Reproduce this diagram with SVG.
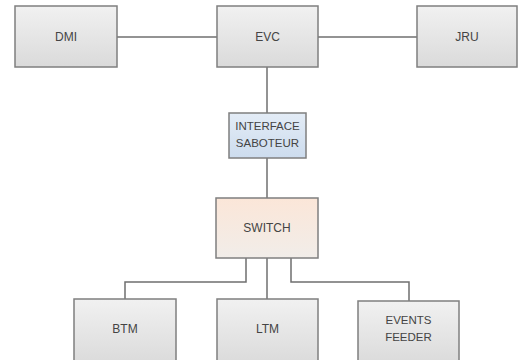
<svg xmlns="http://www.w3.org/2000/svg" width="518" height="360" viewBox="0 0 518 360">
  <defs>
    <linearGradient id="gGrey" x1="0" y1="0" x2="0" y2="1">
      <stop offset="0" stop-color="#f1f1f1"/>
      <stop offset="1" stop-color="#dadada"/>
    </linearGradient>
    <linearGradient id="gBlue" x1="0" y1="0" x2="0" y2="1">
      <stop offset="0" stop-color="#e3ecf6"/>
      <stop offset="1" stop-color="#cddcee"/>
    </linearGradient>
    <linearGradient id="gPeach" x1="0" y1="0" x2="0" y2="1">
      <stop offset="0" stop-color="#fbe6d8"/>
      <stop offset="1" stop-color="#f1ede9"/>
    </linearGradient>
  </defs>
  <style>
    rect { stroke: #7f7f7f; stroke-width: 1.5; }
    .grey { fill: url(#gGrey); }
    .blue { fill: url(#gBlue); }
    .peach { fill: url(#gPeach); }
    text { font-family: "Liberation Sans", Arial, sans-serif; font-size: 12px; fill: #444444; text-anchor: middle; }
    .two { font-size: 11.5px; }
    #connectors path { fill: none; stroke: #6f6f6f; stroke-width: 1.5; }
  </style>

  <g id="connectors">
    <path d="M117 37 H217"/>
    <path d="M318 37 H417"/>
    <path d="M267 67 V113"/>
    <path d="M267 158 V198"/>
    <path d="M246 258 V282 H125 V299"/>
    <path d="M267 258 V299"/>
    <path d="M291 258 V282 H409 V301"/>
  </g>

  <g id="dmi">
    <rect class="grey" x="15" y="6" width="102" height="61"/>
    <text x="66" y="41">DMI</text>
  </g>
  <g id="evc">
    <rect class="grey" x="217" y="6" width="101" height="61"/>
    <text x="267.5" y="41">EVC</text>
  </g>
  <g id="jru">
    <rect class="grey" x="417" y="6" width="100" height="61"/>
    <text x="467" y="41">JRU</text>
  </g>
  <g id="interface-saboteur">
    <rect class="blue" x="229" y="113" width="77" height="45"/>
    <text class="two" x="267.5" y="130">INTERFACE</text>
    <text class="two" x="267.5" y="147">SABOTEUR</text>
  </g>
  <g id="switch">
    <rect class="peach" x="216" y="198" width="102" height="60"/>
    <text x="267" y="232">SWITCH</text>
  </g>
  <g id="btm">
    <rect class="grey" x="74" y="299" width="102" height="66"/>
    <text x="125" y="333">BTM</text>
  </g>
  <g id="ltm">
    <rect class="grey" x="217" y="299" width="101" height="66"/>
    <text x="267.5" y="333">LTM</text>
  </g>
  <g id="events-feeder">
    <rect class="grey" x="358" y="301" width="101" height="64"/>
    <text class="two" x="408.5" y="324">EVENTS</text>
    <text class="two" x="408.5" y="341">FEEDER</text>
  </g>
</svg>
